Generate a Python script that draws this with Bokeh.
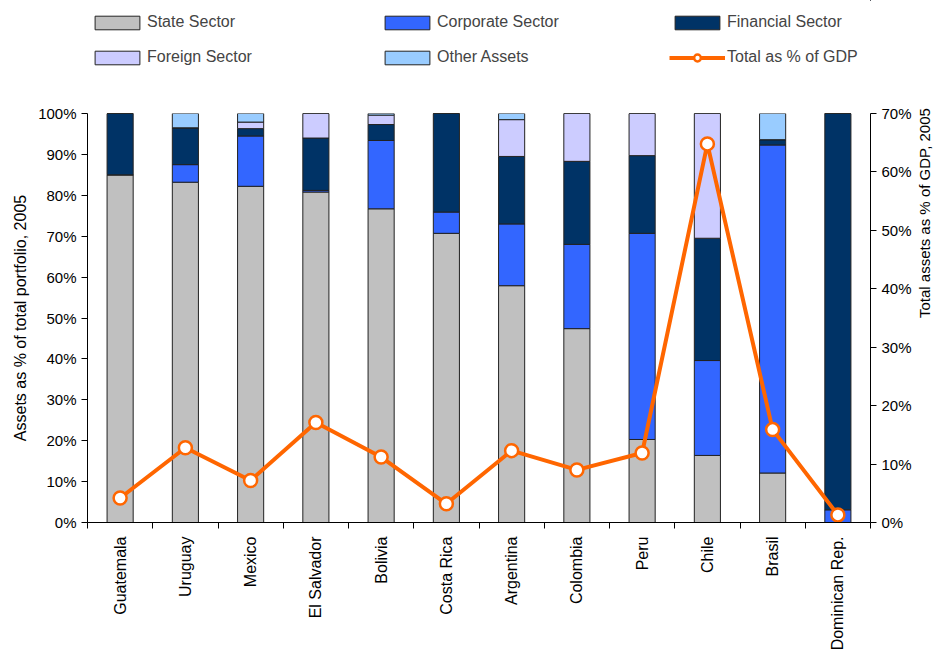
import math
from bokeh.plotting import figure
from bokeh.layouts import column
from bokeh.models import (ColumnDataSource, Range1d, LinearAxis, FixedTicker, PrintfTickFormatter,
                          Legend, LegendItem)
from bokeh.embed import file_html
from bokeh.resources import INLINE

countries = ["Guatemala", "Uruguay", "Mexico", "El Salvador", "Bolivia", "Costa Rica",
             "Argentina", "Colombia", "Peru", "Chile", "Brasil", "Dominican Rep."]
state = [85.0, 83.2, 82.2, 80.8, 76.7, 70.7, 57.9, 47.4, 20.3, 16.4, 12.1, 0.0]
corporate = [0.0, 4.3, 12.3, 0.4, 16.7, 5.2, 15.1, 20.6, 50.4, 23.2, 80.2, 3.1]
financial = [15.0, 9.0, 1.8, 12.8, 3.9, 24.1, 16.5, 20.3, 19.0, 29.9, 1.3, 96.9]
foreign = [0.0, 0.0, 1.6, 6.0, 2.3, 0.0, 9.0, 11.7, 10.3, 30.5, 0.0, 0.0]
other = [0.0, 3.5, 2.1, 0.0, 0.4, 0.0, 1.5, 0.0, 0.0, 0.0, 6.4, 0.0]
gdp = [4.2, 12.8, 7.2, 17.1, 11.2, 3.2, 12.3, 9.0, 11.9, 64.8, 15.9, 1.3]

left_ticks = list(range(0, 101, 10))
right_ticks = list(range(0, 71, 10))

series = ["state", "corporate", "financial", "foreign", "other"]
labels = ["State Sector", "Corporate Sector", "Financial Sector", "Foreign Sector", "Other Assets"]
line_label = "Total as % of GDP"
colors = ["#C0C0C0", "#3366FF", "#003366", "#CCCCFF", "#99CCFF"]
ORANGE = "#FF6600"

# category slot centres on a numeric axis (slot i spans i..i+1)
xpos = [i + 0.5 for i in range(len(countries))]
boundaries = list(range(len(countries) + 1))

source = ColumnDataSource(dict(x=xpos, country=countries, state=state, corporate=corporate,
                               financial=financial, foreign=foreign, other=other, gdp=gdp))

FONT = "Liberation Sans"

# ---------------- main chart ----------------
p = figure(width=944, height=554, x_range=Range1d(0, len(countries)),
           y_range=Range1d(0, 100), output_backend="svg", toolbar_location=None,
           x_axis_location=None, y_axis_location=None,
           min_border_left=87, min_border_right=69, min_border_top=10, min_border_bottom=135)
p.outline_line_color = None
p.xgrid.visible = False
p.ygrid.visible = False
p.background_fill_color = "white"
p.border_fill_color = "white"

p.extra_y_ranges = {"gdp": Range1d(0, 70)}

bars = p.vbar_stack(series, x="x", width=0.4, source=source, fill_color=colors,
                    line_color="#222222", line_width=1)

line = p.line(x="x", y="gdp", source=source, y_range_name="gdp",
              line_color=ORANGE, line_width=4)
pts = p.scatter(x="x", y="gdp", source=source, y_range_name="gdp", marker="circle",
                size=13, fill_color="white", line_color=ORANGE, line_width=2.5)

def style_axis(ax):
    ax.axis_line_color = "black"
    ax.axis_line_width = 1
    ax.major_tick_line_color = "black"
    ax.minor_tick_line_color = None
    ax.major_tick_out = 6
    ax.major_tick_in = 0
    ax.major_label_text_font = FONT
    ax.major_label_text_font_size = "15px"
    ax.major_label_text_color = "black"
    ax.axis_label_text_font = FONT
    ax.axis_label_text_font_size = "16px"
    ax.axis_label_text_font_style = "normal"
    ax.axis_label_text_color = "black"

yl = LinearAxis(ticker=FixedTicker(ticks=left_ticks), formatter=PrintfTickFormatter(format="%d%%"),
                axis_label="Assets as % of total portfolio, 2005")
style_axis(yl)
yl.major_label_standoff = 5
yl.axis_label_standoff = 6
p.add_layout(yl, "left")

yr = LinearAxis(y_range_name="gdp", ticker=FixedTicker(ticks=right_ticks),
                formatter=PrintfTickFormatter(format="%d%%"),
                axis_label="Total assets as % of GDP, 2005")
style_axis(yr)
yr.major_label_standoff = 5
yr.axis_label_standoff = 10
yr.axis_label_text_font_size = "15px"
yr.axis_label_orientation = math.pi / 2
yr.axis_label_text_align = "center"
p.add_layout(yr, "right")

xc = LinearAxis(ticker=FixedTicker(ticks=xpos, minor_ticks=boundaries),
                major_label_overrides={x: c for x, c in zip(xpos, countries)})
style_axis(xc)
xc.major_tick_line_color = None
xc.major_tick_out = 0
xc.minor_tick_line_color = "black"
xc.minor_tick_out = 6
xc.minor_tick_in = 0
xc.major_label_orientation = math.pi / 2
xc.major_label_text_font_size = "16px"
xc.major_label_standoff = 8
p.add_layout(xc, "below")

# ---------------- legend strip (frame aligned with the chart's frame) ----------------
lg = figure(width=944, height=103, output_backend="svg", toolbar_location=None,
            x_axis_location=None, y_axis_location=None, min_border=0,
            x_range=Range1d(-10, -9), y_range=Range1d(-10, -9))
lg.outline_line_color = None
lg.xgrid.visible = False
lg.ygrid.visible = False

# legend-only proxies (their single point lies outside this strip's ranges, so only the key shows)
proxies = [lg.vbar(x=xpos[:1], top=[state[0]], width=0.4, fill_color=c,
                   line_color="#222222", line_width=1) for c in colors]
pl = lg.line(x=xpos[:2], y=gdp[:2], line_color=ORANGE, line_width=4)
ps = lg.scatter(x=xpos[:1], y=gdp[:1], marker="circle", size=13, fill_color="white",
                line_color=ORANGE, line_width=2.5)

items = [LegendItem(label=labels[i], renderers=[proxies[i]]) for i in range(5)]
items.append(LegendItem(label=line_label, renderers=[pl, ps]))
legend = Legend(items=items, ncols=3, location=(2, 36), orientation="horizontal",
                glyph_width=56, glyph_height=17, label_width=217, label_standoff=2,
                spacing=15, padding=0, margin=0, border_line_color=None,
                background_fill_alpha=0, label_text_font=FONT, label_text_font_size="16px",
                label_height=20)
lg.add_layout(legend, "center")

open("out.html", "w").write(file_html(column(lg, p, spacing=0), INLINE))
